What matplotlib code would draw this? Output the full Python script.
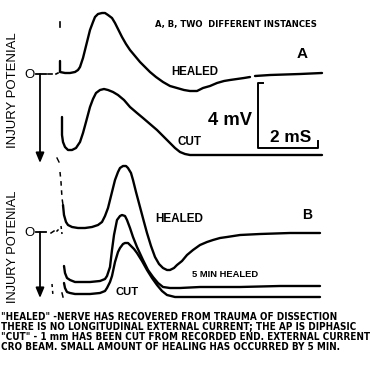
import matplotlib
matplotlib.use("Agg")
import matplotlib.pyplot as plt
from matplotlib import font_manager

# ---------------- data (trace samples, in image units) ----------------
a_healed_x = [60, 60, 65, 70, 75, 78, 80, 83, 85, 88, 90, 93, 95, 98, 102, 105, 108, 112, 115, 118,
              122, 126, 130, 135, 140, 145, 150, 156, 163, 170, 177, 184, 190, 197, 203, 210, 217,
              224, 230, 237, 244, 250]
a_healed_y = [61, 72, 73, 73, 72, 70, 67, 58, 50, 38, 30, 22, 17, 14, 13, 13, 15, 18, 23, 29,
              37, 44, 50, 56, 62, 67, 72, 77, 82, 86, 88, 90, 91, 91, 88, 86, 83,
              81, 80, 79, 78, 77]
a_healed_tail_x = [255, 270, 285, 300, 322]
a_healed_tail_y = [76, 75, 74.5, 74, 73]

a_cut_x = [62, 62, 63, 65, 68, 72, 76, 80, 83, 86, 90, 93, 96, 100, 104, 108, 113, 118, 124, 130,
           137, 143, 150, 157, 163, 170, 175, 180, 185, 190, 200, 210, 240, 280, 322]
a_cut_y = [117, 135, 142, 147, 150, 150, 148, 142, 133, 122, 107, 99, 93, 90, 89, 90, 92, 95, 100, 107,
           113, 118, 124, 130, 136, 143, 148, 152, 154, 155, 155, 155, 155, 155, 155]

b_healed_x = [63, 64, 66, 68, 72, 78, 85, 92, 98, 102, 105, 108, 110, 112, 115, 118, 120, 123, 126,
              128, 131, 133, 136, 140, 144, 147, 151, 155, 159, 163, 167, 170, 174, 177, 182, 187,
              193, 200, 207, 213, 220, 227, 240, 260, 290, 320]
b_healed_y = [205, 215, 222, 225, 227, 228, 228, 227, 225, 222, 216, 208, 200, 192, 180, 172, 168, 166,
              166, 168, 173, 180, 192, 207, 222, 233, 246, 257, 264, 268, 270, 270, 268, 265, 261, 255,
              250, 245, 242, 240, 238, 237, 235, 234, 233, 233]

b_5min_x = [64, 65, 67, 70, 75, 80, 90, 100, 105, 107, 110, 112, 114, 117, 120, 122, 125, 127, 130,
            133, 137, 143, 148, 153, 158, 163, 170, 180, 200, 240, 280, 320]
b_5min_y = [266, 273, 278, 280, 282, 282, 282, 281, 279, 276, 267, 250, 235, 220, 216, 215, 216, 220, 228,
            237, 247, 260, 270, 277, 283, 287, 288, 288, 287, 287, 286, 286]

b_cut_x = [64, 65, 67, 70, 75, 80, 90, 100, 105, 107, 110, 112, 115, 118, 120, 123, 125, 128, 130,
           134, 137, 142, 147, 152, 157, 162, 167, 175, 200, 240, 280, 320]
b_cut_y = [283, 288, 292, 293, 294, 294, 294, 293, 291, 288, 282, 276, 262, 252, 248, 244, 243, 243, 245,
           249, 253, 261, 270, 278, 285, 291, 295, 297, 297, 297, 297, 297]

title_text = "A, B, TWO  DIFFERENT INSTANCES"
axis_label = "INJURY POTENIAL"
caption_lines = [
    '"HEALED" -NERVE HAS RECOVERED FROM TRAUMA OF DISSECTION',
    'THERE IS NO LONGITUDINAL EXTERNAL CURRENT; THE AP IS DIPHASIC',
    '"CUT" - 1 mm HAS BEEN CUT FROM RECORDED END. EXTERNAL CURRENT',
    'CRO BEAM. SMALL AMOUNT OF HEALING HAS OCCURRED BY 5 MIN.',
]

# ---------------- fonts ----------------
_fonts = font_manager.fontManager.ttflist
_names = {f.name for f in _fonts}
if "Liberation Sans Narrow" in _names:
    NARROW = dict(family="Liberation Sans Narrow")
elif any(f.name == "DejaVu Sans" and "condensed" in str(f.stretch) for f in _fonts):
    NARROW = dict(family="DejaVu Sans", stretch="condensed")
else:
    NARROW = dict(family="Liberation Sans")
REG = dict(family="Liberation Sans")

# ---------------- figure ----------------
W, H = 371, 370
fig = plt.figure(figsize=(W / 100, H / 100), dpi=100)
ax = fig.add_axes([0, 0, 1, 1])
ax.set_xlim(0, W)
ax.set_ylim(H, 0)
ax.axis("off")
fig.patch.set_facecolor("white")

K = "black"
LW = 1.7
for xs, ys in [(a_healed_x, a_healed_y), (a_healed_tail_x, a_healed_tail_y), (a_cut_x, a_cut_y),
               (b_healed_x, b_healed_y), (b_5min_x, b_5min_y), (b_cut_x, b_cut_y)]:
    ax.plot(xs, ys, color=K, lw=LW, solid_joinstyle="round", solid_capstyle="round")

# small marks / broken beam traces
ax.plot([60, 60], [22, 27], color=K, lw=1.2)
ax.plot([48, 52], [74, 74], color=K, lw=1.2)
ax.plot([56, 58], [74, 73], color=K, lw=1.2)
ax.plot([57, 59], [158, 162], color=K, lw=1.0)
ax.plot([60, 61, 61.5, 62, 63], [172, 182, 190, 198, 205], color=K, lw=1.1, ls=(0, (3, 3)))
ax.plot([51, 54], [233, 231], color=K, lw=1.1)
ax.plot([57, 58], [231, 230], color=K, lw=1.1)
ax.plot([61, 62], [226, 234], color=K, lw=1.1, ls=(0, (2, 2)))
ax.plot([52, 53], [284, 296], color=K, lw=1.1, ls=(0, (2, 2.5)))
ax.plot([62, 63], [293, 297], color=K, lw=1.1)

# arrows
for y0, y1 in [(74, 163), (232, 298)]:
    ax.plot([36, 46], [y0, y0], color=K, lw=1.3)
    ax.annotate("", xy=(40, y1), xytext=(40, y0),
                arrowprops=dict(arrowstyle="-|>,head_length=0.6,head_width=0.25", color=K, lw=1.3,
                                shrinkA=0, shrinkB=0))

# scale bar
ax.plot([263, 258, 258, 318, 318], [83, 83, 148, 148, 141], color=K, lw=1.4)

# ---------------- text ----------------
fig.canvas.draw()
renderer = fig.canvas.get_renderer()


def fit(s, x0, x1, ybase, weight="bold", fs0=10, font=REG):
    t = ax.text(x0, ybase, s, fontsize=fs0, fontweight=weight, ha="left", va="baseline",
                color=K, **font)
    w = t.get_window_extent(renderer).width
    t.set_fontsize(fs0 * (x1 - x0) / w)
    return t


fit(title_text, 155, 317, 27, font=NARROW)
fit("HEALED", 171, 218, 75)
fit("CUT", 177, 201, 145)
fit("A", 297, 308, 58)
fit("4 mV", 208, 252, 125)
fit("2 mS", 270, 311, 142)
fit("HEALED", 155, 203, 222)
fit("B", 302, 312, 219)
fit("5 MIN HEALED", 192, 258, 277)
fit("CUT", 115, 138, 295)

# caption: same size for all lines, fitted to the widest line
t = ax.text(1, 340, caption_lines[2], fontsize=10, fontweight="bold", ha="left", va="baseline",
            color=K, **NARROW)
cfs = 10 * 365 / t.get_window_extent(renderer).width
t.remove()
for i, line in enumerate(caption_lines):
    ax.text(1, 320 + 10 * i, line, fontsize=cfs, fontweight="bold", ha="left", va="baseline",
            color=K, **NARROW)

for yb in [78.5, 236.5]:
    ax.text(24.5, yb, "O", fontsize=9.5, ha="left", va="baseline", color=K, **REG)

for yc, hgt in [(90.5, 115), (246.5, 113)]:
    t = ax.text(13.5, yc, axis_label, fontsize=10, rotation=90, ha="center", va="center",
                color=K, **REG)
    hh = t.get_window_extent(renderer).height
    t.set_fontsize(10 * hgt / hh)

fig.savefig("out.png", dpi=100, facecolor="white")
